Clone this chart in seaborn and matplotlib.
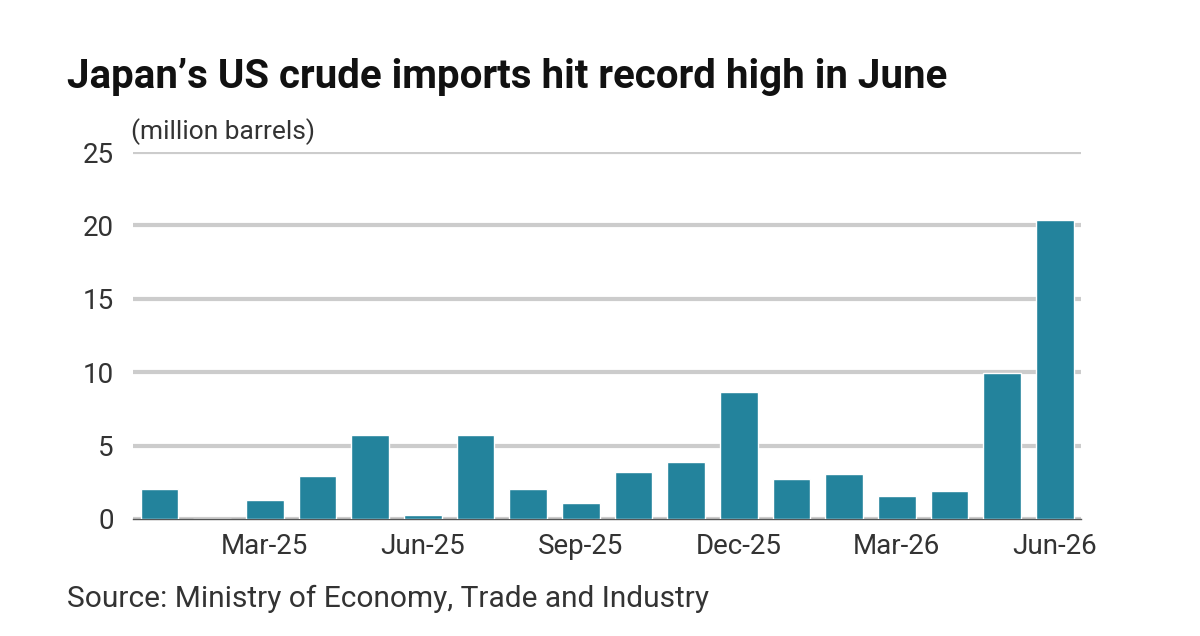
import matplotlib
matplotlib.use("Agg")
import matplotlib.pyplot as plt
import seaborn as sns
import pandas as pd

months = ["Jan-25","Feb-25","Mar-25","Apr-25","May-25","Jun-25","Jul-25","Aug-25","Sep-25",
          "Oct-25","Nov-25","Dec-25","Jan-26","Feb-26","Mar-26","Apr-26","May-26","Jun-26"]
values = [2.05,0.0,1.3,2.9,5.7,0.27,5.7,2.05,1.1,3.2,3.9,8.65,2.7,3.05,1.55,1.9,9.95,20.4]
shown_ticks = ["Mar-25","Jun-25","Sep-25","Dec-25","Mar-26","Jun-26"]

sns.set_theme(style="white")
plt.rcParams['font.family'] = ['Roboto', 'DejaVu Sans']

df = pd.DataFrame({"month": months, "value": values})
fig = plt.figure(figsize=(12, 6.36), dpi=100)
ax = fig.add_axes([0.111, 0.184, 0.79, 0.577])
sns.barplot(data=df, x="month", y="value", color="#23839c", width=0.72, ax=ax, saturation=1, zorder=3)
ax.set_ylim(0, 25)
ax.set_xlim(-0.5, len(months) - 0.5)
ax.set_yticks([0, 5, 10, 15, 20, 25])
ax.yaxis.grid(True, color="#cccccc", linewidth=3, zorder=0)
ax.set_axisbelow(True)
ax.set_xticks([months.index(m) for m in shown_ticks])
ax.set_xticklabels(shown_ticks)
ax.tick_params(axis="both", labelsize=20, colors="#333333", length=0, pad=10)
ax.tick_params(axis="y", pad=14)
for lab in ax.get_yticklabels():
    lab.set_horizontalalignment("right")
ax.set_xlabel("")
ax.set_ylabel("")
for s in ["top", "right", "left"]:
    ax.spines[s].set_visible(False)
ax.spines["bottom"].set_color("#555555")
ax.spines["bottom"].set_linewidth(1)

fig.text(0.056, 0.862, "Japan’s US crude imports hit record high in June", fontsize=29,
         fontweight="bold", color="#111111")
fig.text(0.109, 0.782, "(million barrels)", fontsize=19, color="#333333")
fig.text(0.056, 0.045, "Source: Ministry of Economy, Trade and Industry", fontsize=21.5,
         color="#333333")
fig.savefig("out.png", dpi=100)
